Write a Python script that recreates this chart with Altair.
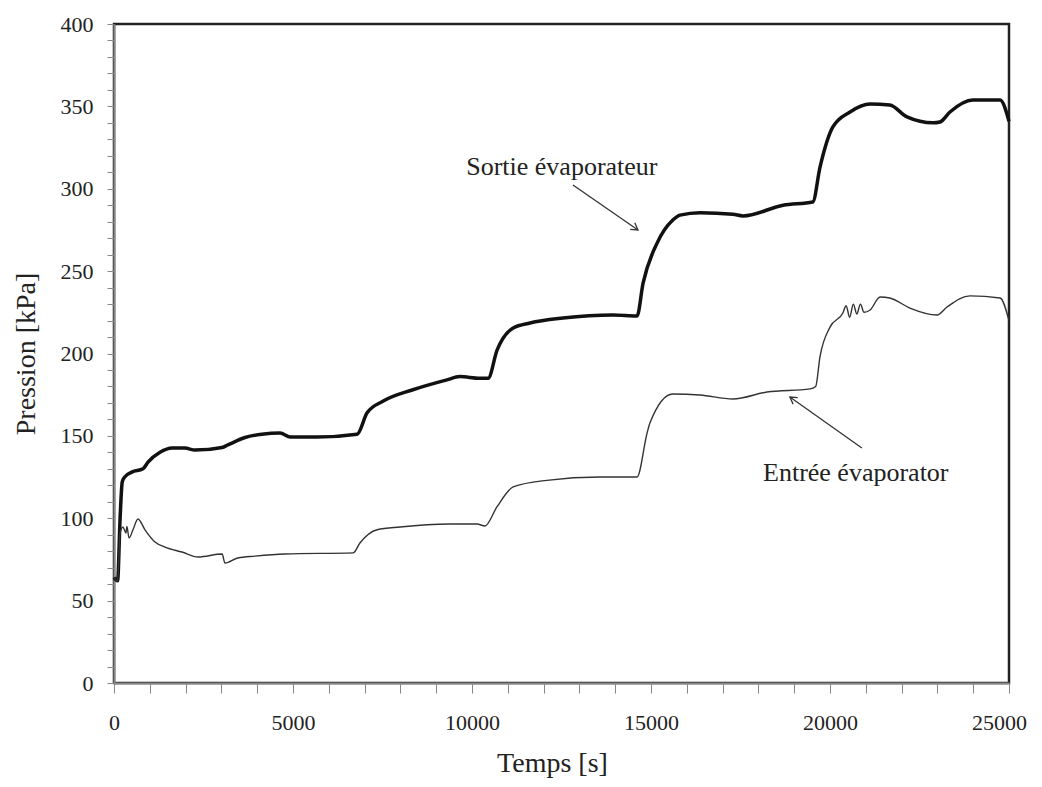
import altair as alt
import pandas as pd

# --- data ---
sortie_t = [0, 100, 170, 230, 300, 500, 810, 950, 1285, 1620, 1980, 2260, 3020, 3180, 3660, 4130,
            4640, 4920, 5670, 6790, 7070, 7510, 8350, 9300, 9660, 10220, 10450, 10700, 11150, 11620,
            12540, 13940, 14610, 14780, 15170, 15610, 15810, 16370, 17290, 17570, 18690, 19520,
            19720, 20080, 20560, 21120, 21670, 22150, 22880, 23070, 23350, 23990, 24750, 25000]
sortie_p = [64, 62, 100, 122, 125, 128, 130, 134, 140, 142.6, 142.6, 141.4, 143, 144.5, 149, 151,
            151.7, 149.3, 149.3, 151, 164, 171, 178, 184, 186, 185, 185, 202, 215.5, 218.5,
            221.5, 223.4, 222.8, 242.8, 267, 281, 284, 285.5, 284.5, 283.5, 290, 292,
            313, 337.5, 346.6, 351.4, 350.8, 343.6, 340, 340.5, 346.6, 353.9, 353.9, 341]

entree_t = [0, 100, 170, 250, 335, 360, 420, 530, 670, 865, 1145, 1425, 1900, 2350, 3020, 3100,
            3460, 3940, 4780, 6680, 6870, 7350, 7990, 9380, 10140, 10360, 10700, 11150, 12090,
            13570, 14610, 14890, 14970, 15610, 16370, 17290, 18240, 19440, 19600, 19720, 20000,
            20360, 20450, 20550, 20650, 20750, 20850, 20950, 21120, 21400, 21670, 22230, 22990,
            23270, 23910, 24750, 25000]
entree_p = [64, 62, 91, 94.7, 91, 95, 88, 93, 99.5, 93, 85.6, 82.5, 79.5, 76.5, 78.3, 72.8,
            75.9, 77, 78.3, 79, 85, 93, 94.7, 96.5, 96.5, 95.3, 107, 119, 123,
            125, 125, 151.7, 157.8, 175.4, 174.8, 172.4, 176.6, 178.5, 180, 198, 216,
            224.6, 229, 222, 230, 224, 230, 225, 226.4, 234.3, 233.7, 227.6, 223.4,
            228.2, 235, 233.7, 220]

labels = ["Sortie évaporateur", "Entrée évaporator"]
label_x = [12510, 20720]
label_y = [313, 127.5]
arrow_x = [12820, 20890]
arrow_y = [302.3, 142.6]
arrow_x2 = [14636, 18880]
arrow_y2 = [275, 173.6]
arrow_angle = [35, 215]

FONT = "Liberation Serif"

df = pd.concat([
    pd.DataFrame({"t": sortie_t, "p": sortie_p, "s": "Sortie"}),
    pd.DataFrame({"t": entree_t, "p": entree_p, "s": "Entrée"}),
])
ann = pd.DataFrame({"label": labels, "x": label_x, "y": label_y,
                    "ax": arrow_x, "ay": arrow_y, "ax2": arrow_x2, "ay2": arrow_y2,
                    "angle": arrow_angle})

xs = alt.Scale(domain=[0, 25000], nice=False, zero=False)
ys = alt.Scale(domain=[0, 400], nice=False)

xaxis = alt.Axis(values=list(range(0, 25001, 1000)), tickCount=200, format="d",
                 labelExpr="datum.value % 5000 == 0 ? datum.label : ''",
                 labelOffset={"condition": {"test": "datum.value == 25000", "value": -10}, "value": 0},
                 labelOverlap=False, grid=False, tickSize=10, labelPadding=19,
                 labelFont=FONT, labelFontSize=22, labelColor="#222",
                 title="Temps [s]", titleFont=FONT, titleFontSize=28, titleFontWeight="normal",
                 titleColor="#222", titlePadding=16, titleX=438, domainColor="#888", domainWidth=2,
                 tickColor="#888", labelFlush=False)
yaxis = alt.Axis(values=list(range(0, 401, 10)), tickCount=200, format="d",
                 labelExpr="datum.value % 50 == 0 ? datum.label : ''",
                 labelOverlap=False, grid=False, tickSize=7, labelPadding=14,
                 labelFont=FONT, labelFontSize=22, labelColor="#222",
                 title="Pression [kPa]", titleFont=FONT, titleFontSize=28,
                 titleFontWeight="normal", titleColor="#222", titlePadding=20,
                 domainColor="#888", domainWidth=2, tickColor="#888", labelFlush=False)

lines = alt.Chart(df).mark_line(interpolate="monotone").encode(
    x=alt.X("t:Q", scale=xs, axis=xaxis),
    y=alt.Y("p:Q", scale=ys, axis=yaxis),
    detail="s:N",
    color=alt.Color("s:N", scale=alt.Scale(domain=["Sortie", "Entrée"], range=["#111111", "#333333"]),
                    legend=None),
    strokeWidth=alt.StrokeWidth("s:N", scale=alt.Scale(domain=["Sortie", "Entrée"], range=[3.5, 1.4]),
                                legend=None),
)

texts = alt.Chart(ann).mark_text(font=FONT, fontSize=26, color="#222", align="center",
                                 baseline="middle").encode(
    x=alt.X("x:Q", scale=xs), y=alt.Y("y:Q", scale=ys), text="label:N")

arrows = alt.Chart(ann).mark_rule(color="#333", strokeWidth=1.3).encode(
    x=alt.X("ax:Q", scale=xs), y=alt.Y("ay:Q", scale=ys),
    x2="ax2:Q", y2="ay2:Q")

heads = alt.Chart(ann).mark_point(shape="M -1 -0.6 L 0 0 L -1 0.6", filled=False,
                                  color="#333", strokeWidth=1.3, size=180, opacity=1).encode(
    x=alt.X("ax2:Q", scale=xs), y=alt.Y("ay2:Q", scale=ys),
    angle=alt.Angle("angle:Q", scale=None))

chart = alt.layer(lines, arrows, heads, texts).properties(
    width=895, height=659,
    autosize="none",
    padding={"left": 106, "top": 16, "right": 25, "bottom": 96},
    background="white",
).configure_view(stroke="#222", strokeWidth=2.5)

chart.save("out.html", embed_options={"renderer": "svg", "actions": False})
